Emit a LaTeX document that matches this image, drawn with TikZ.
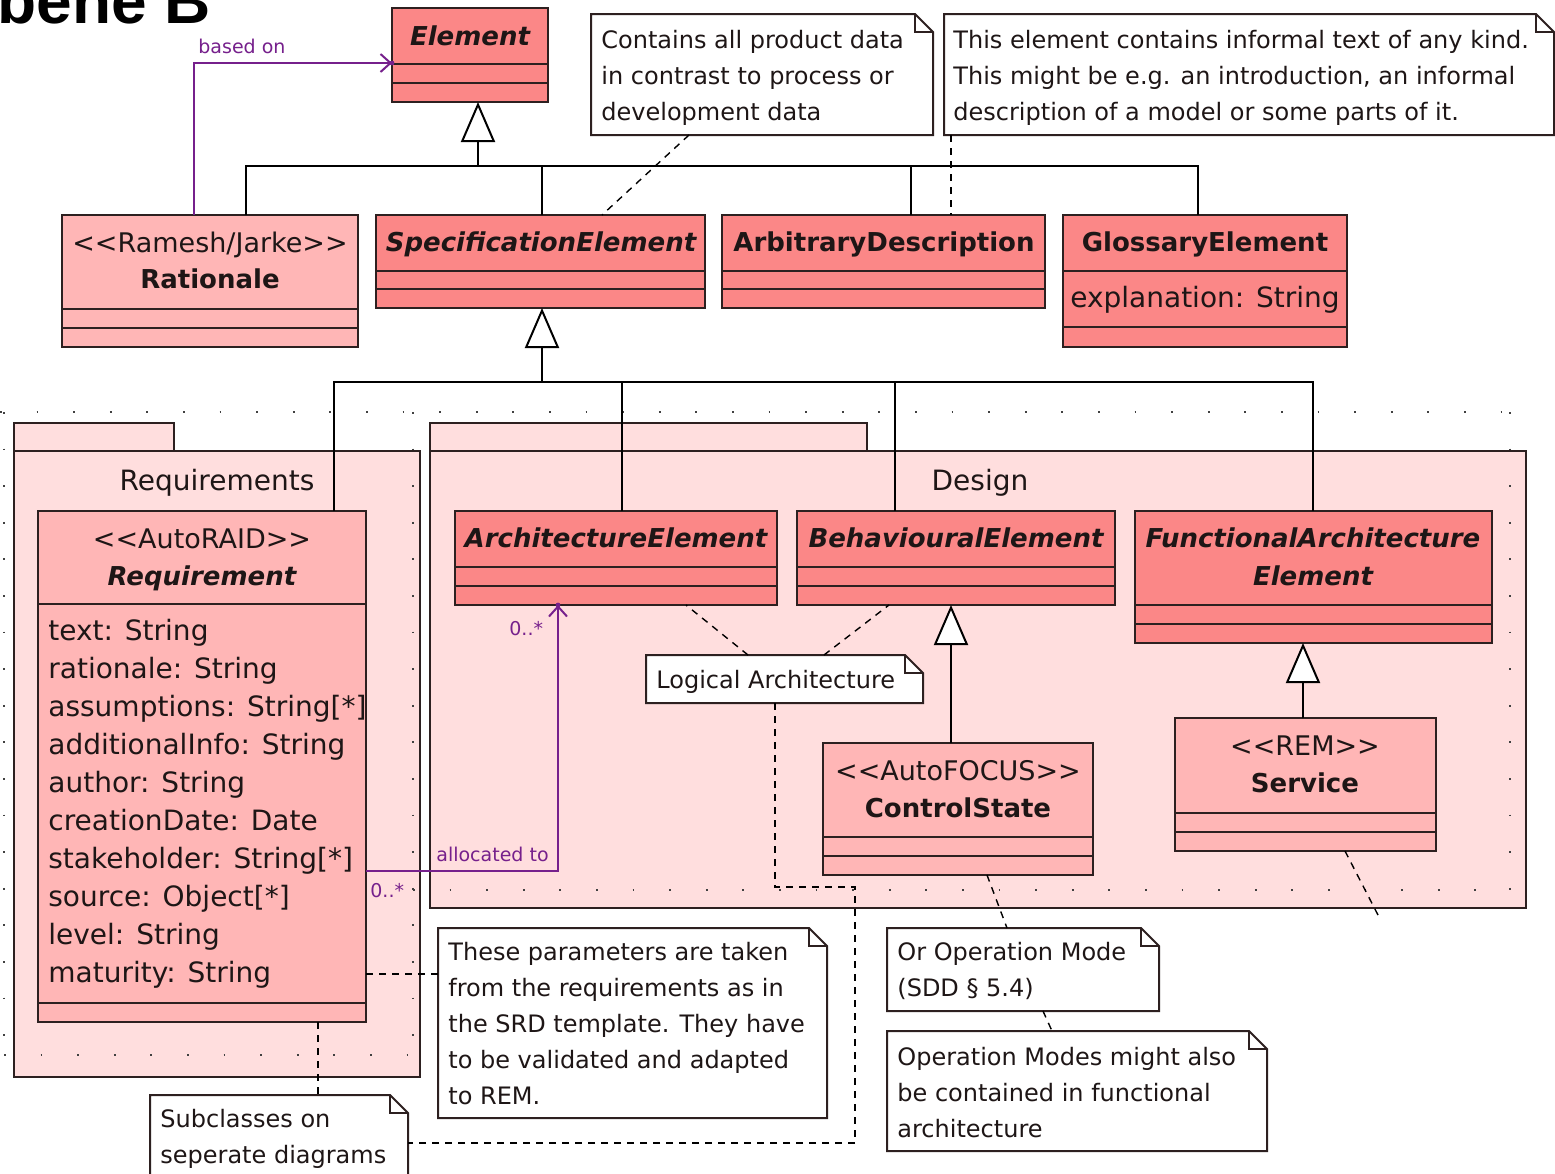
\documentclass[tikz,border=0pt]{standalone}
\usepackage{fontspec}
\setmainfont{DejaVu Sans}
\newfontfamily\headfont{Liberation Sans}
\usetikzlibrary{fit,arrows.meta}

\definecolor{edge}{RGB}{45,32,32}
\definecolor{darkfill}{RGB}{251,135,135}
\definecolor{lightfill}{RGB}{255,182,182}
\definecolor{pkgfill}{RGB}{255,222,222}
\definecolor{assocpurple}{RGB}{118,32,140}
\definecolor{inktext}{RGB}{30,22,22}

% stereotype in plain angle brackets (kerns keep the font mapping from joining them)
\newcommand\stereotype[1]{\textless\kern0pt\textless#1\textgreater\kern0pt\textgreater}
% class box: name, style, x1, y1, x2, y2, compartment separators
\newcommand\umlclass[7]{%
  \node[#2, fit={(#3,#4)(#5,#6)}] (#1) {};
  \foreach \sepy in {#7} {\draw[compart] (#3,\sepy) -- (#5,\sepy);}
}
% note with folded corner: name, x1, y1, x2, y2
\newcommand\notebox[5]{%
  \node[inner sep=0pt, outer sep=0pt, fit={(#2,#3)(#4,#5)}] (#1) {};
  \draw[notebody] (#2,#3) -- (#4-18,#3) -- (#4,#3+18) -- (#4,#5) -- (#2,#5) -- cycle;
  \draw[notefold] (#4-18,#3) -- (#4-18,#3+18) -- (#4,#3+18);
}
% lines of note text: prefix, x, first baseline, lines
\newcommand\notelines[4]{%
  \foreach \linetext [count=\i from 0] in {#4}
    \node[ntext] (#1-\i) at (#2,#3+36*\i) {\linetext};
}

\begin{document}
\begin{tikzpicture}[x=0.5pt, y=-0.5pt,
  box/.style={draw=edge, line width=1pt, inner sep=0pt, outer sep=0pt},
  darkcls/.style={box, fill=darkfill},
  lightcls/.style={box, fill=lightfill},
  compart/.style={draw=edge, line width=1pt},
  pkg/.style={draw=edge, line width=1pt, fill=pkgfill},
  pkgbody/.style={pkg, inner sep=0pt, outer sep=0pt},
  tree/.style={draw=black, line width=1pt},
  gen/.style={tree, -{Triangle[length=20pt, width=17pt, fill=white]}},
  assocline/.style={draw=assocpurple, line width=1pt, -{Straight Barb[length=5pt, width=9pt]}},
  link/.style={draw=black, line width=0.7pt, dash pattern=on 3.5pt off 3pt},
  gridline/.style={draw=black!75, line width=0.9pt, dash pattern=on 0.9pt off 17.4pt},
  notebody/.style={draw=edge, line width=1pt, fill=white},
  notefold/.style={draw=edge, line width=1pt},
  cname/.style={font=\fontsize{13}{15}\selectfont\bfseries, text=inktext, anchor=base, inner sep=0pt},
  cnamei/.style={cname, font=\fontsize{13}{15}\selectfont\bfseries\itshape},
  stereo/.style={font=\fontsize{13.5}{15}\selectfont, text=inktext, anchor=base, inner sep=0pt},
  attr/.style={font=\fontsize{14}{16}\selectfont, text=inktext, anchor=base west, inner sep=0pt},
  attrc/.style={attr, anchor=base},
  ntext/.style={font=\fontsize{12}{14}\selectfont, text=inktext, anchor=base west, inner sep=0pt},
  pkglabel/.style={font=\fontsize{14}{16}\selectfont, text=inktext, anchor=base, inner sep=0pt},
  alabel/.style={font=\fontsize{9.5}{11}\selectfont, text=assocpurple, anchor=base west, inner sep=0pt},
  titletext/.style={font=\headfont\bfseries\fontsize{32}{36}\selectfont, anchor=base west, inner sep=0pt},
]
\useasboundingbox (0,0) rectangle (1555,1174);
\fill[white] (0,0) rectangle (1555,1174);

% heading
\node[titletext] (title) at (-3,23) {bene B};

% packages
\draw[pkg] (14,423) rectangle (174,451);
\node[pkgbody, fit={(14,451)(420,1077)}] (reqpkg) {};
\draw[pkg] (430,423) rectangle (867,451);
\node[pkgbody, fit={(430,451)(1526,908)}] (despkg) {};
\node[pkglabel] (reqpkg-t) at (217,490) {Requirements};
\node[pkglabel] (despkg-t) at (980,490) {Design};

% page grid
\draw[gridline] (0,412) -- (1510,412);
\draw[gridline] (4,412) -- (4,1060);
\draw[gridline] (413,412) -- (413,1060);
\draw[gridline] (4,1055) -- (413,1055);
\draw[gridline] (1510,412) -- (1510,890);
\draw[gridline] (413,890) -- (1510,890);

% classes
\umlclass{elt}{darkcls}{392}{8}{548}{102}{64,83}
\umlclass{rat}{lightcls}{62}{215}{358}{347}{309,328}
\umlclass{spec}{darkcls}{376}{215}{705}{308}{271,289}
\umlclass{arb}{darkcls}{722}{215}{1045}{308}{271,289}
\umlclass{glos}{darkcls}{1063}{215}{1347}{347}{271,327}
\umlclass{req}{lightcls}{38}{511}{366}{1022}{604,1003}
\umlclass{ae}{darkcls}{455}{511}{777}{605}{567,586}
\umlclass{be}{darkcls}{797}{511}{1115}{605}{567,586}
\umlclass{fae}{darkcls}{1135}{511}{1492}{643}{605,624}
\umlclass{cs}{lightcls}{823}{743}{1093}{875}{837,856}
\umlclass{svc}{lightcls}{1175}{718}{1436}{851}{813,832}

\node[cnamei] (elt-t) at (470,45) {Element};
\node[stereo] (rat-s) at (210,252) {\stereotype{Ramesh/Jarke}};
\node[cname] (rat-t) at (210,288) {Rationale};
\node[cnamei] (spec-t) at (541,251) {SpecificationElement};
\node[cname] (arb-t) at (884,251) {ArbitraryDescription};
\node[cname] (glos-t) at (1205,251) {GlossaryElement};
\node[attrc] (glos-a) at (1205,307) {explanation: String};
\node[stereo] (req-s) at (202,548) {\stereotype{AutoRAID}};
\node[cnamei] (req-t) at (202,585) {Requirement};
\foreach \attrtext [count=\i from 0] in {text: String, rationale: String,
    assumptions: String[*], additionalInfo: String, author: String,
    creationDate: Date, stakeholder: String[*], source: Object[*],
    level: String, maturity: String}
  \node[attr] (req-a\i) at (48,640+38*\i) {\attrtext};
\node[cnamei] (ae-t) at (616,547) {ArchitectureElement};
\node[cnamei] (be-t) at (956,547) {BehaviouralElement};
\node[cnamei] (fae-t1) at (1313,547) {FunctionalArchitecture};
\node[cnamei] (fae-t2) at (1313,585) {Element};
\node[stereo] (cs-s) at (958,780) {\stereotype{AutoFOCUS}};
\node[cname] (cs-t) at (958,817) {ControlState};
\node[stereo] (svc-s) at (1305,755) {\stereotype{REM}};
\node[cname] (svc-t) at (1305,792) {Service};

% generalizations
\coordinate (bar1) at (478,166);
\coordinate (bar2) at (542,382);
\draw[gen] (bar1) -- (bar1 |- elt.south);
\draw[tree] (rat.north -| 246,0) |- (bar1) -| (glos.north -| 1198,0);
\draw[tree] (spec.north -| 542,0) -- (542,166);
\draw[tree] (arb.north -| 911,0) -- (911,166);
\draw[gen] (bar2) -- (bar2 |- spec.south);
\draw[tree] (req.north -| 334,0) |- (bar2) -| (fae.north -| 1313,0);
\draw[tree] (ae.north -| 622,0) -- (622,382);
\draw[tree] (be.north -| 895,0) -- (895,382);
\draw[gen] (cs.north -| 951,0) -- (be.south -| 951,0);
\draw[gen] (svc.north -| 1303,0) -- (fae.south -| 1303,0);

% associations
\draw[assocline] (rat.north -| 194,0) |- (elt.west |- 0,63);
\fill[assocpurple] (elt.west |- 0,63) circle (1.2pt);
\node[alabel] (lbl-based) at (198,53) {based on};
\draw[assocline] (req.east |- 0,871) -| (ae.south -| 558,0);
\fill[assocpurple] (ae.south -| 558,0) circle (1.2pt);
\node[alabel] (lbl-alloc) at (436,861) {allocated to};
\node[alabel] (mult-req) at (370,897) {0..*};
\node[alabel] (mult-ae) at (509,635) {0..*};

% notes
\notebox{nprod}{591}{14}{933}{135}
\notelines{nprod}{601}{48}{Contains all product data, in contrast to process or, development data}
\notebox{ninf}{944}{14}{1554}{135}
\notelines{ninf}{953}{48}{This element contains informal text of any kind., {This might be e.g. an introduction, an informal}, description of a model or some parts of it.}
\notebox{nlog}{646}{655}{923}{703}
\notelines{nlog}{656}{688}{Logical Architecture}
\notebox{npar}{438}{928}{827}{1118}
\notelines{npar}{448}{960}{These parameters are taken, from the requirements as in, the SRD template. They have, to be validated and adapted, to REM.}
\notebox{nmode}{887}{928}{1159}{1011}
\notelines{nmode}{897}{960}{Or Operation Mode, (SDD § 5.4)}
\notebox{nmodes}{887}{1031}{1267}{1151}
\notelines{nmodes}{897}{1065}{Operation Modes might also, be contained in functional, architecture}
\notebox{nsub}{150}{1095}{408}{1195}
\notelines{nsub}{160}{1127}{Subclasses on, seperate diagrams}

% note attachments
\draw[link] (nprod.south -| 689,0) -- (spec.north -| 602,0);
\draw[link] (ninf.south -| 951,0) -- (arb.north -| 951,0);
\draw[link] (nlog.north -| 748,0) -- (ae.south -| 686,0);
\draw[link] (nlog.north -| 824,0) -- (be.south -| 889,0);
\draw[link] (nlog.south -| 775,0) |- (855,887) |- (nsub.east |- 0,1143);
\draw[link] (cs.south -| 987,0) -- (nmode.north -| 1007,0);
\draw[link] (nmode.south -| 1043,0) -- (nmodes.north -| 1052,0);
\draw[link] (req.east |- 0,974) -- (npar.west |- 0,974);
\draw[link] (req.south -| 318,0) -- (nsub.north -| 318,0);
\coordinate (svc-end) at (1378,915);
\draw[link] (svc.south -| 1345,0) -- (svc-end);
\end{tikzpicture}
\end{document}
